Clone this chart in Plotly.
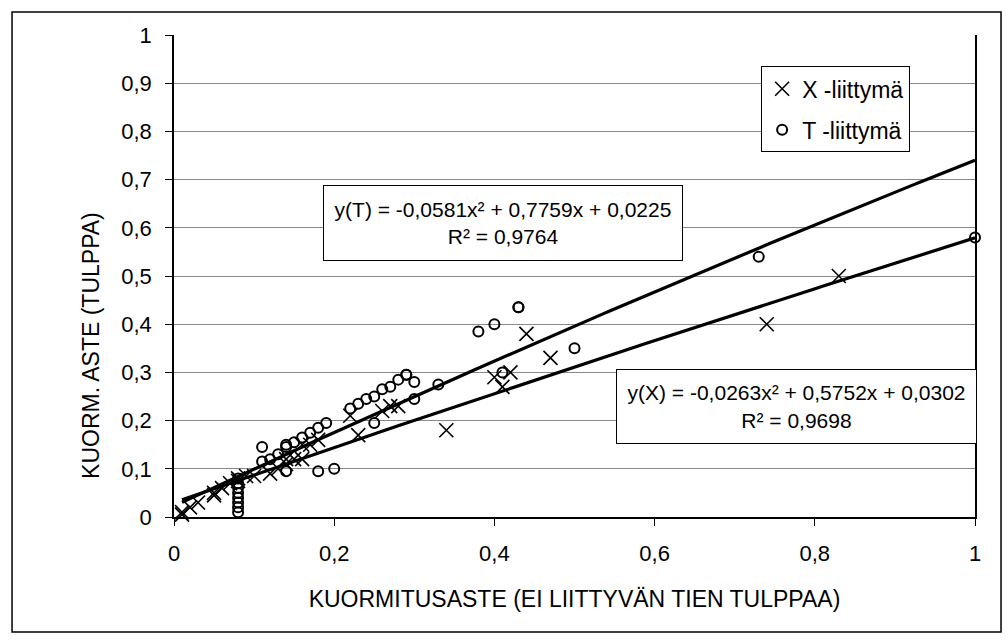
import numpy as np
import plotly.graph_objects as go

# --- data -------------------------------------------------------------
# X-junction observations (cross markers)
x_liittyma_x = [0.01, 0.01, 0.02, 0.03, 0.05, 0.05, 0.06, 0.07, 0.08, 0.08,
                0.09, 0.10, 0.12, 0.13, 0.14, 0.14, 0.15, 0.16, 0.16, 0.17,
                0.18, 0.22, 0.23, 0.26, 0.27, 0.28, 0.34, 0.40, 0.41, 0.42,
                0.44, 0.47, 0.74, 0.83]
x_liittyma_y = [0.005, 0.01, 0.02, 0.03, 0.045, 0.05, 0.06, 0.07, 0.08, 0.075,
                0.085, 0.085, 0.09, 0.10, 0.11, 0.12, 0.12, 0.12, 0.15, 0.15,
                0.16, 0.21, 0.17, 0.22, 0.23, 0.23, 0.18, 0.29, 0.27, 0.30,
                0.38, 0.33, 0.40, 0.50]

# T-junction observations (open circle markers)
t_liittyma_x = [0.08, 0.08, 0.08, 0.08, 0.08, 0.08, 0.08, 0.08,
                0.11, 0.11, 0.12, 0.13, 0.14, 0.14, 0.14, 0.15, 0.16, 0.17,
                0.18, 0.18, 0.19, 0.20, 0.22, 0.23, 0.24, 0.25, 0.25, 0.26,
                0.27, 0.28, 0.29, 0.29, 0.30, 0.30, 0.33, 0.38, 0.40, 0.41,
                0.43, 0.43, 0.50, 0.73, 1.00]
t_liittyma_y = [0.01, 0.02, 0.03, 0.04, 0.05, 0.06, 0.07, 0.08,
                0.145, 0.115, 0.12, 0.13, 0.15, 0.145, 0.095, 0.155, 0.165, 0.175,
                0.185, 0.095, 0.195, 0.10, 0.225, 0.235, 0.245, 0.25, 0.195, 0.265,
                0.27, 0.285, 0.295, 0.295, 0.28, 0.245, 0.275, 0.385, 0.40, 0.30,
                0.435, 0.435, 0.35, 0.54, 0.58]

# Polynomial trend lines: [a2, a1, a0] for y = a2*x^2 + a1*x + a0
trend_t = [-0.0581, 0.7759, 0.0225]
r2_t = 0.9764
trend_x = [-0.0263, 0.5752, 0.0302]
r2_x = 0.9698

# Axis ticks
y_tick_vals = [0, 0.1, 0.2, 0.3, 0.4, 0.5, 0.6, 0.7, 0.8, 0.9, 1]
y_tick_text = ["0", "0,1", "0,2", "0,3", "0,4", "0,5", "0,6", "0,7", "0,8", "0,9", "1"]
x_tick_vals = [0, 0.2, 0.4, 0.6, 0.8, 1]
x_tick_text = ["0", "0,2", "0,4", "0,6", "0,8", "1"]

x_title = "KUORMITUSASTE (EI LIITTYVÄN TIEN TULPPAA)"
y_title = "KUORM. ASTE (TULPPA)"

FONT = "Liberation Sans, Arial, sans-serif"


def fi(v):
    """Finnish decimal comma."""
    return f"{v:.4f}".replace(".", ",")


def equation(name, c, r2):
    return (f"{name} = {fi(c[0])}x² + {fi(c[1])}x + {fi(c[2])}"
            f"<br>R² = {fi(r2)}")


xs = np.linspace(0.01, 1.0, 120)
curve_t = np.polyval(trend_t, xs)
curve_x = np.polyval(trend_x, xs)

fig = go.Figure()

fig.add_trace(go.Scatter(
    x=xs, y=curve_t, mode="lines", showlegend=False, hoverinfo="skip",
    line=dict(color="black", width=3.2)))
fig.add_trace(go.Scatter(
    x=xs, y=curve_x, mode="lines", showlegend=False, hoverinfo="skip",
    line=dict(color="black", width=3.2)))

fig.add_trace(go.Scatter(
    x=x_liittyma_x, y=x_liittyma_y, mode="markers", name="X -liittymä",
    legendgroup="x", cliponaxis=False,
    marker=dict(symbol="x-thin-open", size=14, color="black",
                line=dict(color="black", width=1.6))))
fig.add_trace(go.Scatter(
    x=t_liittyma_x, y=t_liittyma_y, mode="markers", name="T -liittymä",
    legendgroup="t", cliponaxis=False,
    marker=dict(symbol="circle-open", size=10, color="black",
                line=dict(color="black", width=2))))

ann_style = dict(xref="x", yref="y", showarrow=False, align="center",
                 bgcolor="white", bordercolor="black", borderwidth=1,
                 borderpad=0, font=dict(family=FONT, size=21, color="black"))
fig.add_annotation(x=0.411, y=0.61, width=358, height=74,
                   text=equation("y(T)", trend_t, r2_t), **ann_style)
fig.add_annotation(x=0.777, y=0.229, width=359, height=73,
                   text=equation("y(X)", trend_x, r2_x), **ann_style)

# vertical axis title, placed in the left margin
fig.add_annotation(xref="paper", yref="paper", x=-0.1036, y=0.355,
                   text=y_title, textangle=-90, showarrow=False,
                   xanchor="center", yanchor="middle",
                   font=dict(family=FONT, size=23, color="black"))

# outer chart frame
fig.add_shape(type="rect", xref="paper", yref="paper",
              x0=-0.2022, x1=1.0325, y0=-0.2386, y1=1.0477,
              line=dict(color="black", width=1.5), layer="below")

fig.update_layout(
    width=1006, height=644,
    margin=dict(l=174, r=31, t=35, b=127),
    paper_bgcolor="white", plot_bgcolor="white",
    font=dict(family=FONT, size=22, color="black"),
    legend=dict(x=0.733, y=0.935, xanchor="left", yanchor="top",
                bgcolor="white", bordercolor="black", borderwidth=1,
                font=dict(family=FONT, size=23), tracegroupgap=8,
                itemwidth=30),
    xaxis=dict(range=[0, 1], tickvals=x_tick_vals, ticktext=x_tick_text,
               showgrid=False, zeroline=False, showline=True,
               linecolor="black", linewidth=1.5, ticks="outside",
               ticklen=7, tickcolor="black", ticklabelstandoff=9,
               title=dict(text=x_title, standoff=26, font=dict(size=23))),
    yaxis=dict(range=[0, 1], tickvals=y_tick_vals, ticktext=y_tick_text,
               showgrid=True, gridcolor="#888888", gridwidth=1,
               zeroline=False, showline=True, mirror=True,
               linecolor="black", linewidth=1.5, ticks="outside",
               ticklen=7, tickcolor="black", ticklabelstandoff=9),
)

fig.write_html("out.html")
